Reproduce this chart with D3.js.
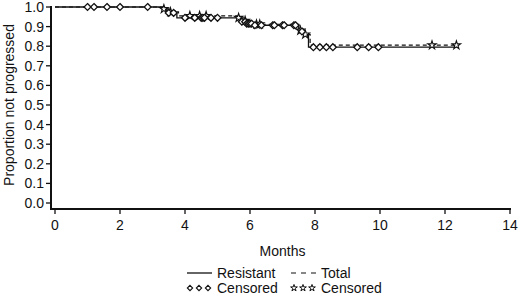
<!DOCTYPE html>
<html>
<head>
<meta charset="utf-8">
<script src="https://cdn.jsdelivr.net/npm/d3@7"></script>
<style>
  body { margin: 0; background: #fff; }
  text { font-family: "Liberation Sans", Arial, sans-serif; fill: #111; }
</style>
</head>
<body>
<div id="chart"></div>
<script>
// step points (time in months, proportion not progressed after the step)
const resistantTimes = [0, 3.3, 3.45, 3.75, 5.6, 5.75, 5.9, 6.1, 7.5, 7.65, 7.8, 12.4];
const resistantSurv  = [1.0, 0.985, 0.97, 0.945, 0.935, 0.925, 0.915, 0.907, 0.875, 0.855, 0.795, 0.795];

const totalTimes = [0, 3.3, 3.5, 3.8, 5.65, 5.8, 6.0, 6.2, 7.5, 7.7, 7.85, 12.4];
const totalSurv  = [1.0, 0.99, 0.975, 0.955, 0.945, 0.93, 0.92, 0.912, 0.88, 0.86, 0.805, 0.805];

// censoring times
const resistantCensored = [1.0, 1.2, 1.6, 2.0, 2.85, 3.5, 3.65, 4.0, 4.3, 4.5, 4.55, 4.6, 4.8, 5.0,
  5.75, 5.85, 5.9, 5.95, 6.0, 6.05, 6.15, 6.35, 6.7, 6.75, 7.0, 7.05, 7.35, 7.4, 7.6,
  7.95, 8.15, 8.35, 8.55, 9.3, 9.65, 9.95];
const totalCensored = [3.35, 3.55, 4.15, 4.45, 4.65, 5.65, 5.85, 6.2, 6.3, 7.55, 7.7, 11.6, 12.35];

const xTicks = [0, 2, 4, 6, 8, 10, 12, 14];
const yTicks = [0, 0.1, 0.2, 0.3, 0.4, 0.5, 0.6, 0.7, 0.8, 0.9, 1.0];

const W = 520, H = 300;
const fs = 14;
const svg = d3.select('#chart').append('svg')
  .attr('width', W).attr('height', H);

const x = d3.scaleLinear().domain([0, 14]).range([55, 510]);
const y = d3.scaleLinear().domain([0, 1]).range([203, 7]);

const axisX0 = 51, axisY0 = 209;

// axes
svg.append('line')
  .attr('x1', axisX0).attr('x2', axisX0)
  .attr('y1', y(1) - 1).attr('y2', axisY0 + 1)
  .attr('stroke', '#111').attr('stroke-width', 2);
svg.append('line')
  .attr('x1', axisX0 - 1).attr('x2', x(14) + 1)
  .attr('y1', axisY0).attr('y2', axisY0)
  .attr('stroke', '#111').attr('stroke-width', 2);

const yt = svg.append('g').selectAll('g').data(yTicks).join('g')
  .attr('transform', d => `translate(0,${y(d)})`);
yt.append('line').attr('x1', axisX0 - 5).attr('x2', axisX0)
  .attr('stroke', '#111').attr('stroke-width', 1.3);
yt.append('text').attr('x', axisX0 - 7).attr('dy', '0.35em')
  .attr('text-anchor', 'end').attr('font-size', fs)
  .text(d => d3.format('.1f')(d));

const xt = svg.append('g').selectAll('g').data(xTicks).join('g')
  .attr('transform', d => `translate(${x(d)},0)`);
xt.append('line').attr('y1', axisY0).attr('y2', axisY0 + 5)
  .attr('stroke', '#111').attr('stroke-width', 1.3);
xt.append('text').attr('y', axisY0 + 21)
  .attr('text-anchor', 'middle').attr('font-size', fs)
  .text(d => d);

svg.append('text')
  .attr('x', (x(0) + x(14)) / 2).attr('y', 256)
  .attr('text-anchor', 'middle').attr('font-size', fs)
  .text('Months');

svg.append('text')
  .attr('transform', `translate(14,${y(0.5)}) rotate(-90)`)
  .attr('text-anchor', 'middle').attr('font-size', fs)
  .text('Proportion not progressed');

// curves
const line = d3.line().x(d => x(d[0])).y(d => y(d[1])).curve(d3.curveStepAfter);
const resistant = resistantTimes.map((t, i) => [t, resistantSurv[i]]);
const total = totalTimes.map((t, i) => [t, totalSurv[i]]);

svg.append('path').datum(total)
  .attr('d', line).attr('fill', 'none')
  .attr('stroke', '#111').attr('stroke-width', 1.2)
  .attr('stroke-dasharray', '4,3');
svg.append('path').datum(resistant)
  .attr('d', line).attr('fill', 'none')
  .attr('stroke', '#111').attr('stroke-width', 1.3);

function survAt(times, surv, t) {
  let v = surv[0];
  for (let i = 0; i < times.length; i++) if (times[i] <= t) v = surv[i];
  return v;
}

const diamond = d3.symbol().type(d3.symbolDiamond2).size(30);
const star = d3.symbol().type(d3.symbolStar).size(22);

svg.append('g').selectAll('path').data(totalCensored).join('path')
  .attr('d', star)
  .attr('transform', d => `translate(${x(d)},${y(survAt(totalTimes, totalSurv, d))})`)
  .attr('fill', '#fff').attr('stroke', '#111').attr('stroke-width', 1.1);

svg.append('g').selectAll('path').data(resistantCensored).join('path')
  .attr('d', diamond)
  .attr('transform', d => `translate(${x(d)},${y(survAt(resistantTimes, resistantSurv, d))})`)
  .attr('fill', '#fff').attr('stroke', '#111').attr('stroke-width', 1.3);

// legend
const leg = svg.append('g');
leg.append('line').attr('x1', 187).attr('x2', 212).attr('y1', 273).attr('y2', 273)
  .attr('stroke', '#111').attr('stroke-width', 1.3);
leg.append('text').attr('x', 217).attr('y', 278).attr('font-size', fs).text('Resistant');
leg.append('line').attr('x1', 291).attr('x2', 316).attr('y1', 273).attr('y2', 273)
  .attr('stroke', '#111').attr('stroke-width', 1.2).attr('stroke-dasharray', '5,5');
leg.append('text').attr('x', 321).attr('y', 278).attr('font-size', fs).text('Total');

leg.selectAll('.ld').data([0, 1, 2]).join('path').attr('class', 'ld')
  .attr('d', d3.symbol().size(18).type(d3.symbolDiamond2)())
  .attr('transform', d => `translate(${190 + d * 9},288)`)
  .attr('fill', '#fff').attr('stroke', '#111').attr('stroke-width', 1.1);
leg.append('text').attr('x', 217).attr('y', 293).attr('font-size', fs).text('Censored');
leg.selectAll('.ls').data([0, 1, 2]).join('path').attr('class', 'ls')
  .attr('d', d3.symbol().size(14).type(d3.symbolStar)())
  .attr('transform', d => `translate(${294 + d * 9},288)`)
  .attr('fill', '#fff').attr('stroke', '#111').attr('stroke-width', 1);
leg.append('text').attr('x', 321).attr('y', 293).attr('font-size', fs).text('Censored');
</script>
</body>
</html>
